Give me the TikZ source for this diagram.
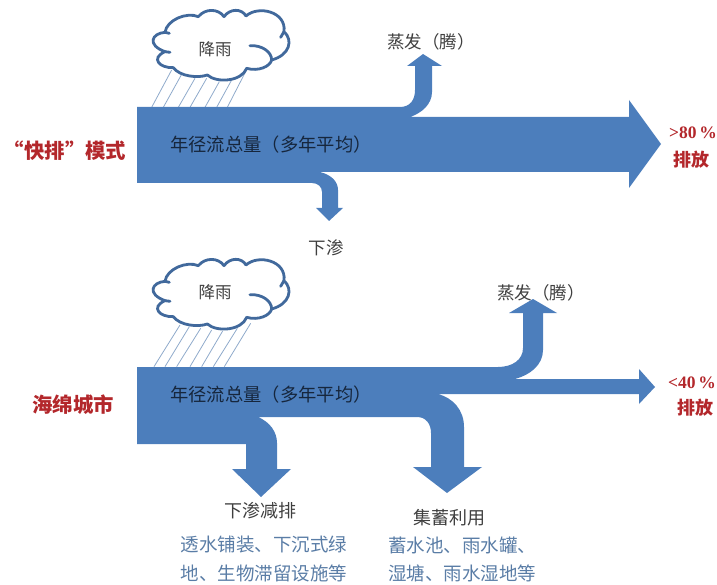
\documentclass[tikz,border=0pt]{standalone}
\usepackage{fontspec}
\setmainfont{Noto Sans CJK SC}
\newfontfamily\latinbold{Liberation Serif}
\definecolor{flow}{HTML}{4C7EBC}
\definecolor{cloudline}{HTML}{41699C}
\definecolor{rainline}{HTML}{8FAACB}
\definecolor{redtext}{HTML}{B3272B}
\definecolor{greytext}{HTML}{3F3F3F}
\definecolor{bluetext}{HTML}{5A7DA6}
\definecolor{darktext}{HTML}{16263C}
\tikzset{
  flowshape/.style={fill=flow,draw=none},
  cloudshape/.style={draw=cloudline,line width=2.8pt,fill=white,line join=round},
  cloudmark/.style={draw=cloudline,line width=2.8pt,line cap=round},
  rain/.style={draw=rainline,line width=0.8pt},
  lab/.style={inner sep=0pt,text=greytext,font=\fontsize{17.5}{20}\selectfont},
  flowlab/.style={inner sep=0pt,text=darktext,font=\fontsize{18.3}{20}\selectfont},
  modelab/.style={inner sep=0pt,text=redtext,font=\bfseries\fontsize{20.4}{22}\selectfont},
  outlab/.style={inner sep=0pt,text=redtext,font=\latinbold\bfseries\fontsize{17.5}{20}\selectfont},
  outcn/.style={inner sep=0pt,text=redtext,font=\bfseries\fontsize{18}{20}\selectfont},
  measure/.style={inner sep=0pt,text=bluetext,font=\fontsize{18.5}{20}\selectfont},
}
\newcommand{\mycloud}{%
  \path[cloudshape] (105,97) .. controls (110,60) and (170,35) .. (205,50)
   .. controls (225,25) and (265,25) .. (282,50)
   .. controls (300,25) and (335,25) .. (348,48)
   .. controls (385,15) and (470,35) .. (462,95)
   .. controls (490,120) and (480,165) .. (425,180)
   .. controls (420,200) and (385,215) .. (350,205)
   .. controls (335,245) and (260,250) .. (232,225)
   .. controls (205,235) and (150,230) .. (130,203)
   .. controls (90,205) and (60,175) .. (105,155)
   .. controls (50,135) and (65,100) .. (105,97) -- cycle;
  \path[cloudmark] (360,137) .. controls (395,135) and (425,155) .. (425,180);
  \path[cloudmark] (105,155) -- (120,157);
  \path[cloudmark] (462,95) -- (452,112);
  \path[cloudmark] (105,97) -- (118,100);
}
\begin{document}
\begin{tikzpicture}[x=1pt,y=-1pt]
\useasboundingbox (0,0) rectangle (717,585);
% ---------- upper rain
\begin{scope}[shift={(130,0)},x=0.3333pt,y=-0.3333pt]
  \foreach \a/\b/\c in {65/125/210,100/165/205,145/195/235,180/230/235,225/268/245,260/305/240,292/352/205}
    \path[rain] (\a,322) -- (\b,\c);
  \mycloud
\end{scope}
% ---------- upper flow
\path[flowshape] (137,107) -- (400,107)
  .. controls (410,107) and (415,100) .. (415,90) -- (415,66) -- (407,66)
  -- (423,54) -- (442,66) -- (432,66) -- (432,92)
  .. controls (432,104) and (422,113) .. (410,117)
  -- (629,117) -- (629,100) -- (661,144) -- (629,188) -- (629,172)
  -- (320,172) .. controls (332,175) and (338,182) .. (338,190)
  -- (338,208) -- (343,208) -- (329,221) -- (316,208) -- (322,208) -- (322,192)
  .. controls (322,187) and (318,183) .. (312,183) -- (137,183) -- cycle;
% ---------- lower rain
\begin{scope}[shift={(130,265)},x=0.3333pt,y=-0.3333pt]
  \foreach \a/\b/\c in {72/150/180,105/178/185,140/212/190,180/245/195,215/278/198,250/322/190,283/362/175}
    \path[rain] (\a,305) -- (\b,\c);
\end{scope}
\begin{scope}[shift={(130,249)},x=0.3333pt,y=-0.3333pt]
  \mycloud
\end{scope}
% ---------- lower flow
\path[flowshape] (137,367) -- (498,367)
  .. controls (512,367) and (523,360) .. (523,348) -- (523,313) -- (509,313)
  -- (533,299) -- (557,313) -- (543,313) -- (543,350)
  .. controls (543,365) and (530,375) .. (515,379)
  -- (639,379) -- (639,369) -- (655,387) -- (639,404) -- (639,394) -- (438,394)
  .. controls (453,398) and (464,410) .. (464,427)
  -- (464,467) -- (482,467) -- (447,493) -- (413,467) -- (431,467) -- (431,433)
  .. controls (431,424) and (426,417) .. (417,417)
  -- (258,417) .. controls (270,422) and (277,432) .. (277,443)
  -- (277,469) -- (291,469) -- (261,497) -- (232,469) -- (246,469) -- (246,444)
  -- (137,444) -- cycle;
% ---------- labels
\node[lab,font=\fontsize{16.5}{18}\selectfont] (rainA) at (215,49) {降雨};
\node[lab,font=\fontsize{16.5}{18}\selectfont] (rainB) at (215,292) {降雨};
\node[lab] (evapA) at (431,42) {蒸发（腾）};
\node[lab] (evapB) at (541,293) {蒸发（腾）};
\node[flowlab] (totalA) at (271,145) {年径流总量（多年平均）};
\node[flowlab] (totalB) at (271,395) {年径流总量（多年平均）};
\node[modelab] (modeA) at (65,151) {“快排”模式};
\node[modelab] (modeB) at (73,405) {海绵城市};
\node[outlab] (outA) at (693,133) {>80\,\%};
\node[outcn] (dischargeA) at (691,160) {排放};
\node[outlab] (outB) at (692,383) {<40\,\%};
\node[outcn] (dischargeB) at (695,408) {排放};
\node[lab] (infilA) at (326,248) {下渗};
\node[lab,font=\fontsize{18}{20}\selectfont] (infilB) at (260,511) {下渗减排};
\node[lab,font=\fontsize{18}{20}\selectfont] (store) at (449,518) {集蓄利用};
\node[measure] (m1) at (264,545) {透水铺装、下沉式绿};
\node[measure] (m2) at (264,573) {地、生物滞留设施等};
\node[measure,anchor=west] (m3) at (388,545) {蓄水池、雨水罐、};
\node[measure,anchor=west] (m4) at (388,573) {湿塘、雨水湿地等};
\end{tikzpicture}
\end{document}
